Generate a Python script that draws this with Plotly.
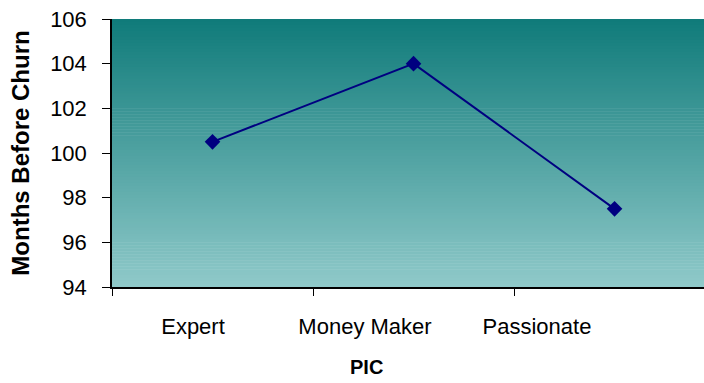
import plotly.graph_objects as go

categories = ["Expert", "Money Maker", "Passionate"]
months = [100.5, 104.0, 97.5]
y_ticks = [94, 96, 98, 100, 102, 104, 106]

FONT = "Liberation Sans, Arial, sans-serif"

fig = go.Figure()

fig.add_trace(go.Scatter(
    x=categories, y=months, mode="lines+markers",
    line=dict(color="#000080", width=2),
    marker=dict(symbol="diamond", size=12, color="#000080"),
    hoverinfo="skip", showlegend=False,
))
# invisible helper trace so the label axis is drawn
fig.add_trace(go.Scatter(
    x=categories, y=months, xaxis="x2", mode="markers",
    marker=dict(opacity=0), hoverinfo="skip", showlegend=False,
))

# vertical gradient background (paper-referenced bands)
top = (16, 123, 122)
bot = (143, 201, 201)
n = 90
shapes = []
for i in range(n):
    t = i / (n - 1)
    c = tuple(round(top[k] + (bot[k] - top[k]) * t) for k in range(3))
    shapes.append(dict(
        type="rect", xref="paper", yref="paper", layer="below",
        x0=0, x1=1, y1=1 - i / n, y0=1 - (i + 1) / n - 0.002,
        fillcolor="rgb(%d,%d,%d)" % c, line=dict(width=0),
    ))

fig.update_layout(
    width=704, height=383,
    margin=dict(l=112, r=0, t=19, b=96),
    paper_bgcolor="white", plot_bgcolor="rgba(0,0,0,0)",
    shapes=shapes,
    font=dict(family=FONT, color="black"),
    xaxis=dict(
        type="category", range=[-0.5, 2.445],
        tickson="boundaries", ticks="outside", ticklen=7, tickcolor="black",
        showticklabels=True, tickfont=dict(size=10, color="rgba(0,0,0,0)"),
        showgrid=False, zeroline=False,
        showline=True, linecolor="black", linewidth=1.5,
    ),
    xaxis2=dict(
        type="category", overlaying="x", anchor="y", side="bottom",
        range=[-0.471, 2.971], showgrid=False, zeroline=False,
        showline=False, ticks="", ticklabelstandoff=24,
        tickfont=dict(size=22, family=FONT, color="black"),
    ),
    yaxis=dict(
        range=[94, 106], tickvals=y_ticks, ticks="outside", ticklen=8,
        tickcolor="black", showgrid=False, zeroline=False,
        showline=True, linecolor="black", linewidth=1.5,
        tickfont=dict(size=22, family=FONT, color="black"),
        ticklabelstandoff=11,
        title=dict(text="<b>Months Before Churn</b>",
                   font=dict(size=24, family=FONT, color="black"),
                   standoff=14),
    ),
    annotations=[dict(
        text="<b>PIC</b>", xref="paper", yref="paper", x=0.43, y=0,
        yshift=-67, xanchor="center", yanchor="top", showarrow=False,
        font=dict(size=20, family=FONT, color="black"),
    )],
)

fig.write_html("out.html")
